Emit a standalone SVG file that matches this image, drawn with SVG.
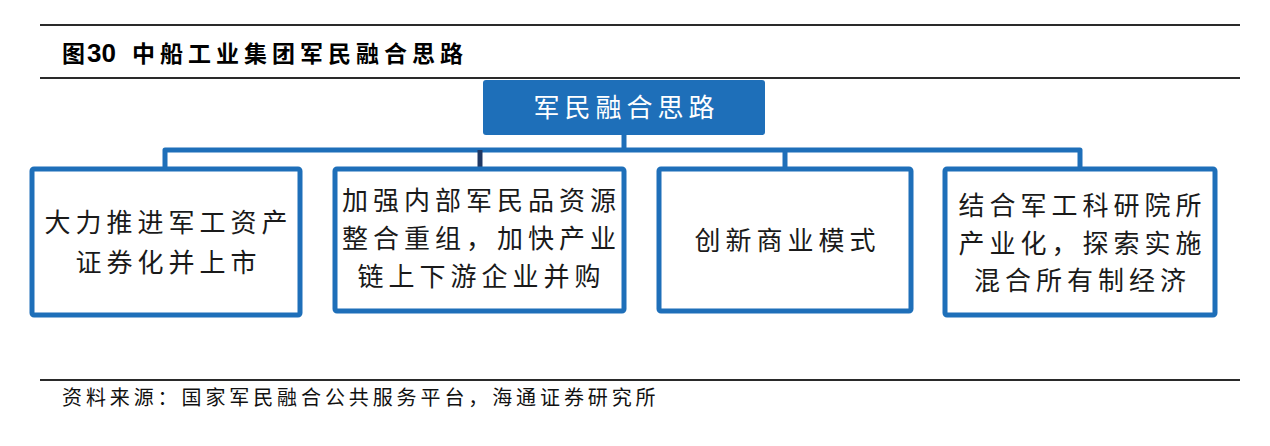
<svg xmlns="http://www.w3.org/2000/svg" width="1270" height="446" viewBox="0 0 1270 446">
<style>
.rule{stroke:#2a2a2a;stroke-width:2}
.box{fill:#fff;stroke:#1E6FB9;stroke-width:5}
.lbl{font-family:"Noto Sans CJK SC","Noto Sans",sans-serif;font-size:26px;fill:#1a1a1a;text-anchor:middle;letter-spacing:5px}
.conn{fill:none;stroke:#1E6FB9;stroke-width:5;stroke-linejoin:round}
</style>
<rect width="1270" height="446" fill="#fff"/>
<line class="rule" x1="40" y1="25" x2="1240" y2="25"/>
<line class="rule" x1="40" y1="78" x2="1240" y2="78"/>
<line class="rule" x1="40" y1="380" x2="1240" y2="380"/>
<text id="title" y="62" font-family="Noto Sans CJK SC, sans-serif" font-size="23" font-weight="bold" fill="#000"><tspan x="62">图</tspan><tspan x="87" font-family="Liberation Sans, sans-serif" font-size="26">30</tspan><tspan x="132" letter-spacing="5">中船工业集团军民融合思路</tspan></text>
<g id="connectors">
<path class="conn" d="M624,135 V150"/>
<path class="conn" d="M165,169 V150 H1080 V169"/>
<path class="conn" d="M785,150 V169"/>
<path d="M480,150 V169" fill="none" stroke="#1F3864" stroke-width="5"/>
</g>
<g id="root">
<rect x="483" y="80" width="282" height="55" rx="3" fill="#1E6FB9"/>
<text class="lbl" x="626.5" y="117" style="fill:#fff">军民融合思路</text>
</g>
<g id="n1">
<rect class="box" x="32" y="169" width="268" height="146" rx="2"/>
<text class="lbl" x="168.5" y="232">大力推进军工资产</text>
<text class="lbl" x="168.5" y="272">证券化并上市</text>
</g>
<g id="n2">
<rect class="box" x="335" y="169" width="289" height="142" rx="2"/>
<text class="lbl" x="481.5" y="210">加强内部军民品资源</text>
<text class="lbl" x="481.5" y="248">整合重组，加快产业</text>
<text class="lbl" x="481.5" y="286">链上下游企业并购</text>
</g>
<g id="n3">
<rect class="box" x="659" y="169" width="252" height="142" rx="2"/>
<text class="lbl" x="787.5" y="250">创新商业模式</text>
</g>
<g id="n4">
<rect class="box" x="945" y="169" width="270" height="146" rx="2"/>
<text class="lbl" x="1082.5" y="215">结合军工科研院所</text>
<text class="lbl" x="1082.5" y="253">产业化，探索实施</text>
<text class="lbl" x="1082.5" y="290">混合所有制经济</text>
</g>
<text id="source" x="62" y="405" font-family="Noto Sans CJK SC, sans-serif" font-size="20" letter-spacing="3.9" fill="#111">资料来源：国家军民融合公共服务平台，海通证券研究所</text>
</svg>
